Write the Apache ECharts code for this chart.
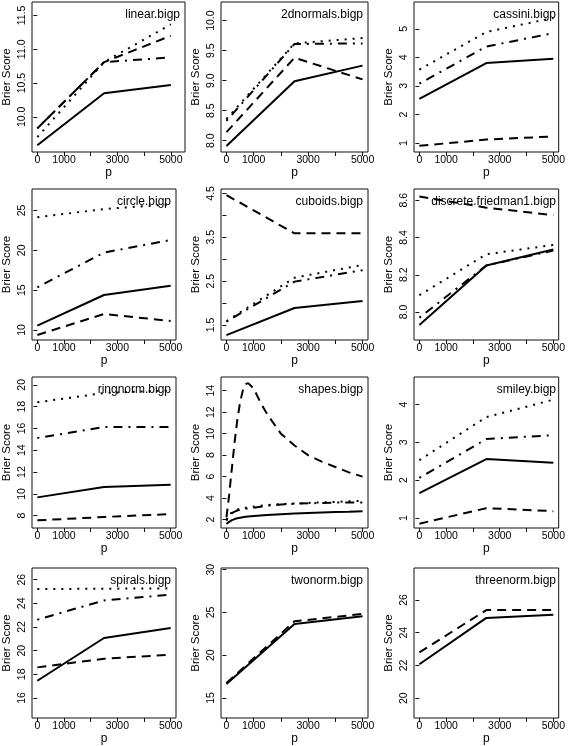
<!DOCTYPE html>
<html><head><meta charset="utf-8">
<script src="https://cdn.jsdelivr.net/npm/echarts@6/dist/echarts.min.js"></script>
<style>html,body{margin:0;padding:0;background:#fff}#c{width:568px;height:746px}</style>
</head><body><div id="c"></div>
<script>
// ---- x values ----
const pValues = [0, 2500, 5000];
const pShapes = [0,100,200,300,400,500,600,700,800,1000,1250,1500,2000,2500,3000,3500,4000,4500,5000];
const xTicks = [0,1000,2000,3000,4000,5000];
const xLabels = [0,1000,3000,5000];

// ---- series values (solid, dashed, dotted, dot-dash) ----
const linearSolid   = [9.58, 10.35, 10.47];
const linearDashed  = [9.83, 10.81, 11.20];
const linearDotted  = [9.70, 10.81, 11.37];
const linearDotdash = [9.83, 10.81, 10.88];

const twoNormalsSolid   = [7.91, 8.99, 9.25];
const twoNormalsDashed  = [8.14, 9.38, 9.02];
const twoNormalsDotted  = [8.36, 9.62, 9.71];
const twoNormalsDotdash = [8.33, 9.61, 9.62];

const cassiniSolid   = [2.55, 3.80, 3.95];
const cassiniDashed  = [0.90, 1.12, 1.23];
const cassiniDotted  = [3.57, 4.89, 5.38];
const cassiniDotdash = [3.08, 4.38, 4.85];

const circleSolid   = [10.54, 14.39, 15.56];
const circleDashed  = [9.37, 12.0, 11.13];
const circleDotted  = [24.14, 25.19, 25.77];
const circleDotdash = [15.36, 19.71, 21.3];

const cuboidsSolid   = [1.27, 1.89, 2.05];
const cuboidsDashed  = [4.46, 3.59, 3.59];
const cuboidsDotted  = [1.59, 2.58, 2.87];
const cuboidsDotdash = [1.58, 2.49, 2.75];

const friedmanSolid   = [7.93, 8.25, 8.335];
const friedmanDashed  = [8.62, 8.56, 8.52];
const friedmanDotted  = [8.09, 8.31, 8.36];
const friedmanDotdash = [7.97, 8.25, 8.33];

const ringnormSolid   = [9.68, 10.63, 10.84];
const ringnormDashed  = [7.57, 7.88, 8.15];
const ringnormDotted  = [18.4, 19.25, 19.5];
const ringnormDotdash = [15.13, 16.13, 16.13];

const shapesSolid   = [1.6,1.8,1.95,2.05,2.12,2.18,2.22,2.26,2.29,2.33,2.38,2.42,2.5,2.56,2.62,2.66,2.7,2.73,2.78];
const shapesDashed  = [2.2,4.3,6.8,9.2,11.3,12.9,14.0,14.6,14.7,14.2,12.9,11.8,10.0,8.9,8.0,7.4,6.9,6.4,6.0];
const shapesDotted  = [1.9,2.4,2.7,2.85,2.95,3.0,3.05,3.1,3.12,3.2,3.3,3.35,3.45,3.5,3.55,3.6,3.65,3.7,3.75];
const shapesDotdash = [2.0,2.35,2.6,2.75,2.85,2.92,2.98,3.02,3.05,3.1,3.2,3.3,3.4,3.48,3.52,3.55,3.58,3.6,3.6];

const smileySolid   = [1.66, 2.56, 2.46];
const smileyDashed  = [0.85, 1.26, 1.18];
const smileyDotted  = [2.53, 3.67, 4.13];
const smileyDotdash = [2.06, 3.09, 3.19];

const spiralsSolid   = [17.46, 21.07, 21.92];
const spiralsDashed  = [18.59, 19.32, 19.66];
const spiralsDotted  = [25.21, 25.24, 25.27];
const spiralsDotdash = [22.62, 24.25, 24.73];

const twonormSolid  = [16.64, 23.65, 24.54];
const twonormDashed = [16.75, 23.96, 24.82];

const threenormSolid  = [22.07, 24.9, 25.1];
const threenormDashed = [22.8, 25.38, 25.38];

// ---- titles and y-axis tick labels ----
const titles = ['linear.bigp','2dnormals.bigp','cassini.bigp','circle.bigp','cuboids.bigp','discrete.friedman1.bigp',
                'ringnorm.bigp','shapes.bigp','smiley.bigp','spirals.bigp','twonorm.bigp','threenorm.bigp'];
const linearTicks = [10.0,10.5,11.0,11.5];
const twoNormalsTicks = [8.0,8.5,9.0,9.5,10.0];
const cassiniTicks = [1,2,3,4,5];
const circleTicks = [10,15,20,25];
const cuboidsTicks = [1.5,2.0,2.5,3.0,3.5,4.0,4.5];
const cuboidsLabels = [1.5,2.5,3.5,4.5];
const friedmanTicks = [8.0,8.2,8.4,8.6];
const ringnormTicks = [8,10,12,14,16,18,20];
const shapesTicks = [2,4,6,8,10,12,14];
const smileyTicks = [1,2,3,4];
const spiralsTicks = [16,18,20,22,24,26];
const twonormTicks = [15,20,25,30];
const threenormTicks = [20,22,24,26];

const panels = [
  {x:pValues, s:[linearSolid,linearDashed,linearDotted,linearDotdash], yr:[9.48,11.70], t:linearTicks, l:linearTicks, d:1, xmax:5530},
  {x:pValues, s:[twoNormalsSolid,twoNormalsDashed,twoNormalsDotted,twoNormalsDotdash], yr:[7.81,10.31], t:twoNormalsTicks, l:twoNormalsTicks, d:1},
  {x:pValues, s:[cassiniSolid,cassiniDashed,cassiniDotted,cassiniDotdash], yr:[0.685,5.94], t:cassiniTicks, l:cassiniTicks, d:0},
  {x:pValues, s:[circleSolid,circleDashed,circleDotted,circleDotdash], yr:[8.74,27.7], t:circleTicks, l:circleTicks, d:0},
  {x:pValues, s:[cuboidsSolid,cuboidsDashed,cuboidsDotted,cuboidsDotdash], yr:[1.16,4.6], t:cuboidsTicks, l:cuboidsLabels, d:1},
  {x:pValues, s:[friedmanSolid,friedmanDashed,friedmanDotted,friedmanDotdash], yr:[7.85,8.66], t:friedmanTicks, l:friedmanTicks, d:1},
  {x:pValues, s:[ringnormSolid,ringnormDashed,ringnormDotted,ringnormDotdash], yr:[6.87,20.72], t:ringnormTicks, l:ringnormTicks, d:0},
  {x:pShapes, s:[shapesSolid,shapesDashed,shapesDotted,shapesDotdash], yr:[1.22,15.27], t:shapesTicks, l:shapesTicks, d:0},
  {x:pValues, s:[smileySolid,smileyDashed,smileyDotted,smileyDotdash], yr:[0.735,4.73], t:smileyTicks, l:smileyTicks, d:0},
  {x:pValues, s:[spiralsSolid,spiralsDashed,spiralsDotted,spiralsDotdash], yr:[14.31,26.99], t:spiralsTicks, l:spiralsTicks, d:0},
  {x:pValues, s:[twonormSolid,twonormDashed], yr:[12.66,30.19], t:twonormTicks, l:twonormTicks, d:0},
  {x:pValues, s:[threenormSolid,threenormDashed], yr:[18.79,27.95], t:threenormTicks, l:threenormTicks, d:0}
];

const FONT = '"Liberation Sans", Arial, Helvetica, sans-serif';
const colLeft = [29, 221, 414];
const colW = 147;
const rowTop = [2, 189, 377, 568];
const rowH = [150, 151, 151, 150];
const dashTypes = ['solid', [9,6], [2,6], [2,6,9,6]];

const grid = [], xAxis = [], yAxis = [], series = [], title = [];
panels.forEach((pn, i) => {
  const r = Math.floor(i / 3), c = i % 3;
  const w = (i === 0) ? 156 : colW;
  grid.push({left: colLeft[c], top: rowTop[r], width: w, height: rowH[r], show: true,
             borderColor: '#111', borderWidth: 1, backgroundColor: 'transparent'});
  xAxis.push({type: 'value', gridIndex: i, min: -200, max: pn.xmax || 5200,
    axisLine: {show: false}, splitLine: {show: false},
    axisTick: {show: true, customValues: xTicks, length: 4, lineStyle: {color: '#111'}},
    axisLabel: {customValues: xLabels, margin: 3, fontSize: 10.5, color: '#000', fontFamily: FONT,
                formatter: v => String(Math.round(v))},
    name: 'p', nameLocation: 'middle', nameGap: 15,
    nameTextStyle: {fontSize: 12, color: '#000', fontFamily: FONT}});
  yAxis.push({type: 'value', gridIndex: i, min: pn.yr[0], max: pn.yr[1],
    axisLine: {show: false}, splitLine: {show: false},
    axisTick: {show: true, customValues: pn.t, length: 4, lineStyle: {color: '#111'}},
    axisLabel: {customValues: pn.l, rotate: 90, margin: 4, fontSize: 10.5, color: '#000', fontFamily: FONT,
                formatter: v => Number(v).toFixed(pn.d)},
    name: 'Brier Score', nameLocation: 'middle', nameGap: 19,
    nameTextStyle: {fontSize: 11.5, color: '#000', fontFamily: FONT}});
  title.push({text: titles[i], right: 568 - (colLeft[c] + w) + 5, top: rowTop[r] + 7, padding: 0,
    textStyle: {fontSize: 12, fontWeight: 'normal', color: '#000', fontFamily: FONT}});
  pn.s.forEach((vals, k) => {
    series.push({type: 'line', xAxisIndex: i, yAxisIndex: i, symbol: 'none', showSymbol: false,
      data: pn.x.map((p, j) => [p, vals[j]]),
      lineStyle: {color: '#000', width: 2, type: dashTypes[k], cap: 'butt'},
      emphasis: {disabled: true}, silent: true});
  });
});

const chart = echarts.init(document.getElementById('c'), null, {renderer: 'canvas'});
chart.setOption({animation: false, backgroundColor: '#fff', title, grid, xAxis, yAxis, series});
</script>
</body></html>
